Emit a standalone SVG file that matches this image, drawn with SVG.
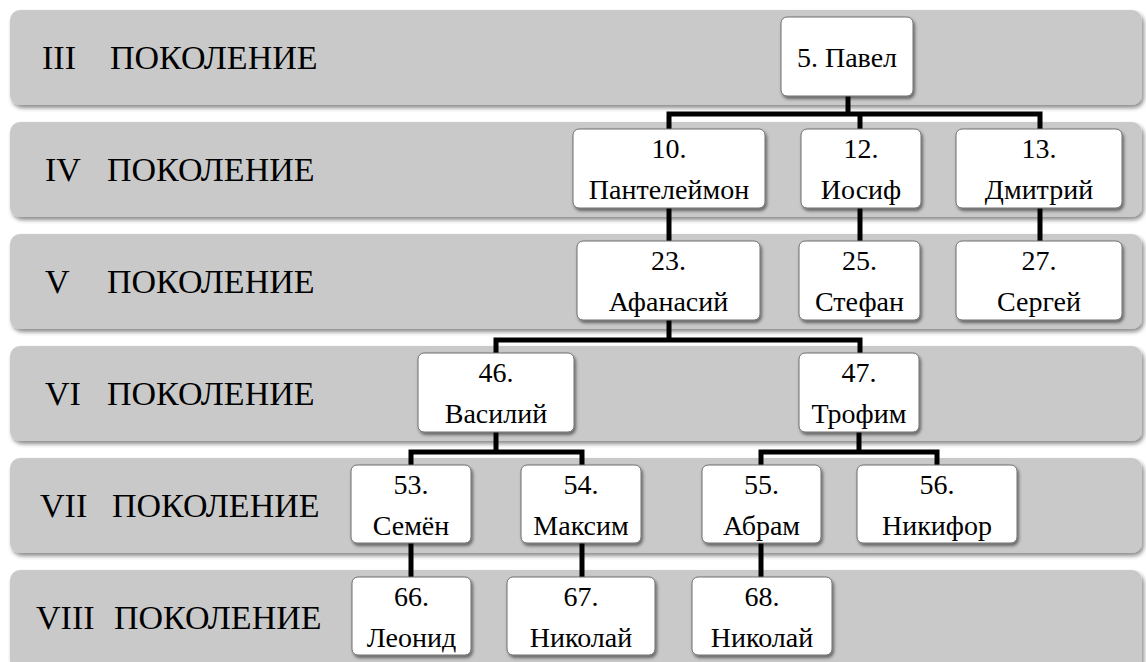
<svg xmlns="http://www.w3.org/2000/svg" width="1146" height="662" viewBox="0 0 1146 662">
<defs>
<filter id="sh" x="-5%" y="-10%" width="115%" height="130%">
<feDropShadow dx="2" dy="3" stdDeviation="2" flood-color="#000" flood-opacity="0.45"/>
</filter>
<filter id="nsh" x="-10%" y="-10%" width="125%" height="130%">
<feDropShadow dx="1.5" dy="2.5" stdDeviation="1.5" flood-color="#000" flood-opacity="0.5"/>
</filter>
<style>
.band{fill:#c9c9c9;filter:url(#sh)}
.bl{font-size:34px;fill:#000}
.box{fill:#fff;stroke:#6e6e6e;stroke-width:1;filter:url(#nsh)}
.t{font-size:28px;fill:#000;text-anchor:middle}
.c{fill:none;stroke:#000;stroke-width:5;stroke-linejoin:miter;stroke-linecap:butt}
</style>
</defs>
<rect width="1146" height="662" fill="#fff"/>
<g id="bands" font-family="Liberation Serif, Tinos, DejaVu Serif, serif">
<g id="band3"><rect class="band" x="10" y="10" width="1132" height="95" rx="10"/><text class="bl" y="69"><tspan x="42">III</tspan><tspan x="110">ПОКОЛЕНИЕ</tspan></text></g>
<g id="band4"><rect class="band" x="10" y="122" width="1132" height="95" rx="10"/><text class="bl" y="181"><tspan x="45">IV</tspan><tspan x="107">ПОКОЛЕНИЕ</tspan></text></g>
<g id="band5"><rect class="band" x="10" y="234" width="1132" height="95" rx="10"/><text class="bl" y="293"><tspan x="45">V</tspan><tspan x="107">ПОКОЛЕНИЕ</tspan></text></g>
<g id="band6"><rect class="band" x="10" y="346" width="1132" height="95" rx="10"/><text class="bl" y="405"><tspan x="45">VI</tspan><tspan x="107">ПОКОЛЕНИЕ</tspan></text></g>
<g id="band7"><rect class="band" x="10" y="458" width="1132" height="95" rx="10"/><text class="bl" y="517"><tspan x="40">VII</tspan><tspan x="112">ПОКОЛЕНИЕ</tspan></text></g>
<g id="band8"><rect class="band" x="10" y="570" width="1132" height="100" rx="10"/><text class="bl" y="629"><tspan x="36">VIII</tspan><tspan x="114">ПОКОЛЕНИЕ</tspan></text></g>
</g>
<g id="connectors">
<path class="c" d="M848,96V114"/>
<path class="c" d="M669,129V114H1040V129"/>
<path class="c" d="M860,114V129"/>
<path class="c" d="M669,208V241"/>
<path class="c" d="M860,208V241"/>
<path class="c" d="M1040,208V241"/>
<path class="c" d="M669,320V340"/>
<path class="c" d="M496,353V340H860V353"/>
<path class="c" d="M496,432V452"/>
<path class="c" d="M411,465V452H582V465"/>
<path class="c" d="M859,432V452"/>
<path class="c" d="M761,465V452H937V465"/>
<path class="c" d="M411,543V577"/>
<path class="c" d="M582,543V577"/>
<path class="c" d="M761,543V577"/>
</g>
<g id="nodes" font-family="Liberation Serif, Tinos, DejaVu Serif, serif">
<g id="n5"><rect class="box" x="781" y="17" width="132" height="79" rx="6"/><text class="t" x="847" y="67">5. Павел</text></g>
<g id="n10"><rect class="box" x="573" y="129" width="192" height="79" rx="6"/><text class="t"><tspan x="669" y="158">10.</tspan><tspan x="669" y="199">Пантелеймон</tspan></text></g>
<g id="n12"><rect class="box" x="801" y="129" width="120" height="79" rx="6"/><text class="t"><tspan x="861" y="158">12.</tspan><tspan x="861" y="199">Иосиф</tspan></text></g>
<g id="n13"><rect class="box" x="956" y="129" width="166" height="79" rx="6"/><text class="t"><tspan x="1039" y="158">13.</tspan><tspan x="1039" y="199">Дмитрий</tspan></text></g>
<g id="n23"><rect class="box" x="577" y="241" width="183" height="79" rx="6"/><text class="t"><tspan x="668.5" y="270">23.</tspan><tspan x="668.5" y="311">Афанасий</tspan></text></g>
<g id="n25"><rect class="box" x="799" y="241" width="121" height="79" rx="6"/><text class="t"><tspan x="859.5" y="270">25.</tspan><tspan x="859.5" y="311">Стефан</tspan></text></g>
<g id="n27"><rect class="box" x="956" y="241" width="166" height="79" rx="6"/><text class="t"><tspan x="1039" y="270">27.</tspan><tspan x="1039" y="311">Сергей</tspan></text></g>
<g id="n46"><rect class="box" x="418" y="353" width="156" height="79" rx="6"/><text class="t"><tspan x="496" y="382">46.</tspan><tspan x="496" y="423">Василий</tspan></text></g>
<g id="n47"><rect class="box" x="799" y="353" width="120" height="79" rx="6"/><text class="t"><tspan x="859" y="382">47.</tspan><tspan x="859" y="423">Трофим</tspan></text></g>
<g id="n53"><rect class="box" x="351" y="465" width="120" height="78" rx="6"/><text class="t"><tspan x="411" y="494">53.</tspan><tspan x="411" y="535">Семён</tspan></text></g>
<g id="n54"><rect class="box" x="521" y="465" width="120" height="78" rx="6"/><text class="t"><tspan x="581" y="494">54.</tspan><tspan x="581" y="535">Максим</tspan></text></g>
<g id="n55"><rect class="box" x="702" y="465" width="119" height="78" rx="6"/><text class="t"><tspan x="761.5" y="494">55.</tspan><tspan x="761.5" y="535">Абрам</tspan></text></g>
<g id="n56"><rect class="box" x="857" y="465" width="160" height="78" rx="6"/><text class="t"><tspan x="937" y="494">56.</tspan><tspan x="937" y="535">Никифор</tspan></text></g>
<g id="n66"><rect class="box" x="352" y="577" width="119" height="78" rx="6"/><text class="t"><tspan x="411.5" y="606">66.</tspan><tspan x="411.5" y="647">Леонид</tspan></text></g>
<g id="n67"><rect class="box" x="507" y="577" width="148" height="78" rx="6"/><text class="t"><tspan x="581" y="606">67.</tspan><tspan x="581" y="647">Николай</tspan></text></g>
<g id="n68"><rect class="box" x="692" y="577" width="140" height="78" rx="6"/><text class="t"><tspan x="762" y="606">68.</tspan><tspan x="762" y="647">Николай</tspan></text></g>
</g>
</svg>
